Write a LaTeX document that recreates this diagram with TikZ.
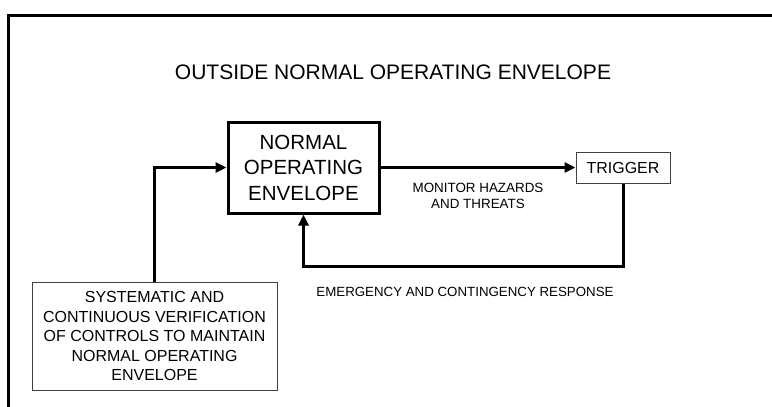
\documentclass[tikz,border=0pt]{standalone}
\usepackage{fontspec}
\setmainfont{Liberation Sans}
\usetikzlibrary{arrows.meta}
\definecolor{myframe}{rgb}{0,0,0}
\definecolor{mythin}{rgb}{0.25,0.25,0.25}

\begin{document}
\begin{tikzpicture}[x=1pt,y=-1pt,
    heavy/.style={line width=3pt},
    flow/.style={heavy,-{Triangle[length=11pt,width=10pt]}},
    thinbox/.style={draw=mythin,line width=1pt,align=center}]
  \useasboundingbox (0,0) rectangle (772,407);
  \clip (0,0) rectangle (772,407);
  % outer frame, right and bottom sides fall off the page
  \draw[myframe,heavy] (8,420) -- (8,15) -- (790,15);
  \node[font=\fontsize{21}{25}\selectfont] (outside) at (393,72) {OUTSIDE NORMAL OPERATING ENVELOPE};
  \node[draw,heavy,minimum width=151,minimum height=91,align=center,
        font=\fontsize{20.5}{25.5}\selectfont] (noe) at (303.5,167.5) {NORMAL\\OPERATING\\ENVELOPE};
  \node[thinbox,minimum width=94,minimum height=31,font=\fontsize{16}{19}\selectfont] (trigger) at (623,167.5) {TRIGGER};
  \node[thinbox,minimum width=245,minimum height=108,font=\fontsize{16}{19.5}\selectfont] (verif) at (154.5,336)
    {SYSTEMATIC AND\\CONTINUOUS VERIFICATION\\OF CONTROLS TO MAINTAIN\\NORMAL OPERATING\\ENVELOPE};
  \node[font=\fontsize{13.4}{16}\selectfont,align=center] (monitor) at (478,196) {MONITOR HAZARDS\\AND THREATS};
  \node[font=\fontsize{13.3}{16}\selectfont] (emergency) at (465,292) {EMERGENCY AND CONTINGENCY RESPONSE};
  % connectors
  \draw[flow] (verif.north) |- (noe.west);
  \draw[flow] (noe.east) -- (trigger.west);
  \draw[flow] (trigger.south) -- ++(0,83) -| (noe.south);
\end{tikzpicture}
\end{document}
